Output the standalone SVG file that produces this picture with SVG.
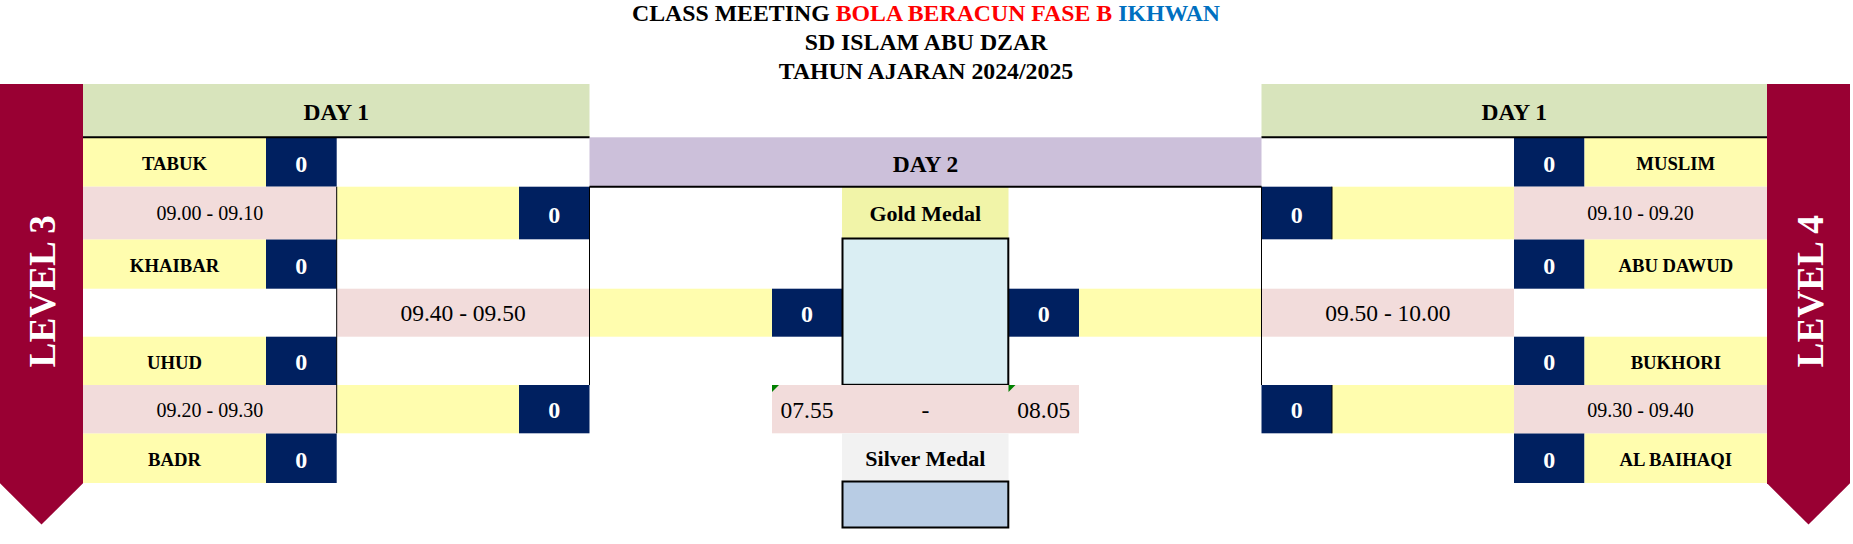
<svg xmlns="http://www.w3.org/2000/svg" width="1853" height="544" viewBox="0 0 1853 544">
<style>
text{font-family:"Liberation Serif","Times New Roman",serif;fill:#000;text-anchor:middle}
.b{font-weight:bold}
.title{font-size:23.8px;font-weight:bold}
.hdr{font-size:23.5px;font-weight:bold}
.team{font-size:18.7px;font-weight:bold}
.score{font-size:24px;font-weight:bold;fill:#fff}
.ts{font-size:20px}
.tl{font-size:23.5px}
.medal{font-size:22px;font-weight:bold}
.lvl{font-size:37.3px;font-weight:bold;fill:#fff;text-anchor:start}
.y{fill:#FFFDAE}.p{fill:#F2DCDB}.n{fill:#002060}
.d1{fill:#D8E4BC}.d2{fill:#CCC0DA}
.ban{fill:#990033}
.thin{stroke:#000;stroke-width:1;fill:none}
.thick{stroke:#000;stroke-width:2;fill:none}
.ind{fill:#008000}
</style>
<rect width="1853" height="544" fill="#fff"/>

<g id="title">
<text class="title" x="926" y="20.7">CLASS MEETING <tspan fill="#FF0000">BOLA BERACUN FASE B </tspan><tspan fill="#0070C0">IKHWAN</tspan></text>
<text class="title" x="926" y="50">SD ISLAM ABU DZAR</text>
<text class="title" x="926" y="79">TAHUN AJARAN 2024/2025</text>
</g>

<g id="banner-level3">
<polygon class="ban" points="0,84 83,84 83,483.3 41.5,524.6 0,483.3"/>
<text class="lvl" transform="translate(55,367.5) rotate(-90)">LEVEL 3</text>
</g>
<g id="banner-level4">
<polygon class="ban" points="1767,84 1850,84 1850,483.3 1808.5,524.6 1767,483.3"/>
<text class="lvl" transform="translate(1822.7,367.5) rotate(-90)">LEVEL 4</text>
</g>

<g id="day1-left">
<rect class="d1" x="83" y="84" width="506.5" height="53.3"/>
<text class="hdr" x="336.3" y="120">DAY 1</text>
</g>
<g id="day1-right">
<rect class="d1" x="1261.5" y="84" width="505.5" height="53.3"/>
<text class="hdr" x="1514.2" y="120">DAY 1</text>
</g>
<g id="day2">
<rect class="d2" x="589.5" y="137.3" width="672" height="49.4"/>
<text class="hdr" x="925.5" y="171.7">DAY 2</text>
</g>

<!-- left teams -->
<g id="team-tabuk">
<rect class="y" x="83" y="137.3" width="183" height="49.4"/>
<rect class="n" x="266" y="137.3" width="70.7" height="49.4"/>
<text class="team" x="174.5" y="169.5">TABUK</text>
<text class="score" x="301.3" y="171.5">0</text>
</g>
<g id="team-khaibar">
<rect class="y" x="83" y="239.3" width="183" height="49.4"/>
<rect class="n" x="266" y="239.3" width="70.7" height="49.4"/>
<text class="team" x="174.5" y="271.5">KHAIBAR</text>
<text class="score" x="301.3" y="273.5">0</text>
</g>
<g id="team-uhud">
<rect class="y" x="83" y="336.7" width="183" height="48.3"/>
<rect class="n" x="266" y="336.7" width="70.7" height="48.3"/>
<text class="team" x="174.5" y="368.5">UHUD</text>
<text class="score" x="301.3" y="370.3">0</text>
</g>
<g id="team-badr">
<rect class="y" x="83" y="433.3" width="183" height="49.7"/>
<rect class="n" x="266" y="433.3" width="70.7" height="49.7"/>
<text class="team" x="174.5" y="465.5">BADR</text>
<text class="score" x="301.3" y="467.7">0</text>
</g>

<!-- left match 1 -->
<g id="match-left-1">
<rect class="p" x="83" y="186.7" width="253.7" height="52.6"/>
<text class="ts" x="209.9" y="220">09.00 - 09.10</text>
<rect class="y" x="336.7" y="186.7" width="182.3" height="52.6"/>
<rect class="n" x="519" y="186.7" width="70.5" height="52.6"/>
<text class="score" x="554.3" y="222.5">0</text>
</g>
<g id="match-left-2">
<rect class="p" x="83" y="385" width="253.7" height="48.3"/>
<text class="ts" x="209.9" y="416.5">09.20 - 09.30</text>
<rect class="y" x="336.7" y="385" width="182.3" height="48.3"/>
<rect class="n" x="519" y="385" width="70.5" height="48.3"/>
<text class="score" x="554.3" y="418">0</text>
</g>
<g id="match-left-final">
<rect class="p" x="336.7" y="288.7" width="252.8" height="48"/>
<text class="tl" x="463.1" y="320.7">09.40 - 09.50</text>
<rect class="y" x="589.5" y="288.7" width="182.5" height="48"/>
<rect class="n" x="772" y="288.7" width="70" height="48"/>
<text class="score" x="807" y="321.7">0</text>
</g>

<!-- right teams -->
<g id="team-muslim">
<rect class="n" x="1514" y="137.3" width="70.5" height="49.4"/>
<rect class="y" x="1584.5" y="137.3" width="182.5" height="49.4"/>
<text class="score" x="1549.3" y="171.5">0</text>
<text class="team" x="1675.8" y="169.5">MUSLIM</text>
</g>
<g id="team-abu-dawud">
<rect class="n" x="1514" y="239.3" width="70.5" height="49.4"/>
<rect class="y" x="1584.5" y="239.3" width="182.5" height="49.4"/>
<text class="score" x="1549.3" y="273.5">0</text>
<text class="team" x="1675.8" y="271.5">ABU DAWUD</text>
</g>
<g id="team-bukhori">
<rect class="n" x="1514" y="336.7" width="70.5" height="48.3"/>
<rect class="y" x="1584.5" y="336.7" width="182.5" height="48.3"/>
<text class="score" x="1549.3" y="370.3">0</text>
<text class="team" x="1675.8" y="368.5">BUKHORI</text>
</g>
<g id="team-al-baihaqi">
<rect class="n" x="1514" y="433.3" width="70.5" height="49.7"/>
<rect class="y" x="1584.5" y="433.3" width="182.5" height="49.7"/>
<text class="score" x="1549.3" y="467.7">0</text>
<text class="team" x="1675.8" y="465.5">AL BAIHAQI</text>
</g>

<!-- right matches -->
<g id="match-right-1">
<rect class="n" x="1261.5" y="186.7" width="70.5" height="52.6"/>
<rect class="y" x="1332" y="186.7" width="182" height="52.6"/>
<rect class="p" x="1514" y="186.7" width="253" height="52.6"/>
<text class="score" x="1296.8" y="222.5">0</text>
<text class="ts" x="1640.5" y="220">09.10 - 09.20</text>
</g>
<g id="match-right-2">
<rect class="n" x="1261.5" y="385" width="70.5" height="48.3"/>
<rect class="y" x="1332" y="385" width="182" height="48.3"/>
<rect class="p" x="1514" y="385" width="253" height="48.3"/>
<text class="score" x="1296.8" y="418">0</text>
<text class="ts" x="1640.5" y="416.5">09.30 - 09.40</text>
</g>
<g id="match-right-final">
<rect class="n" x="1008.5" y="288.7" width="70.5" height="48"/>
<rect class="y" x="1079" y="288.7" width="182.5" height="48"/>
<rect class="p" x="1261.5" y="288.7" width="252.5" height="48"/>
<text class="score" x="1043.8" y="321.7">0</text>
<text class="tl" x="1387.8" y="320.7">09.50 - 10.00</text>
</g>

<!-- center -->
<g id="gold-medal">
<rect fill="#F1F4A8" x="842" y="186.7" width="166.5" height="51.6"/>
<text class="medal" x="925.3" y="220.7">Gold Medal</text>
<rect fill="#DAEEF3" stroke="#000" stroke-width="2" x="842.5" y="238.5" width="165.8" height="146.3"/>
</g>
<g id="final-time">
<rect class="p" x="772" y="385" width="307" height="48.3"/>
<polygon class="ind" points="772,385 779,385 772,392"/>
<polygon class="ind" points="1008.5,385 1015.5,385 1008.5,392"/>
<text class="tl" x="807" y="418">07.55</text>
<text class="tl" x="925.3" y="418">-</text>
<text class="tl" x="1043.8" y="418">08.05</text>
</g>
<g id="silver-medal">
<rect fill="#F2F2F2" x="842" y="433.3" width="166.5" height="47.7"/>
<text class="medal" x="925.3" y="466">Silver Medal</text>
<rect fill="#B8CCE4" stroke="#000" stroke-width="2" x="842.5" y="481.5" width="165.8" height="46"/>
</g>

<g id="connectors">
<line class="thick" x1="83" y1="137.3" x2="589.5" y2="137.3"/>
<line class="thick" x1="1261.5" y1="137.3" x2="1767" y2="137.3"/>
<line class="thick" x1="589.5" y1="186.7" x2="1261.5" y2="186.7"/>
<line class="thin" x1="336.7" y1="186.7" x2="336.7" y2="433.3"/>
<line class="thin" x1="589.5" y1="186.7" x2="589.5" y2="385"/>
<line class="thin" x1="1261.5" y1="186.7" x2="1261.5" y2="385"/>
<line class="thin" x1="1332" y1="186.7" x2="1332" y2="239.3"/>
<line class="thin" x1="1332" y1="385" x2="1332" y2="433.3"/>
</g>
</svg>
